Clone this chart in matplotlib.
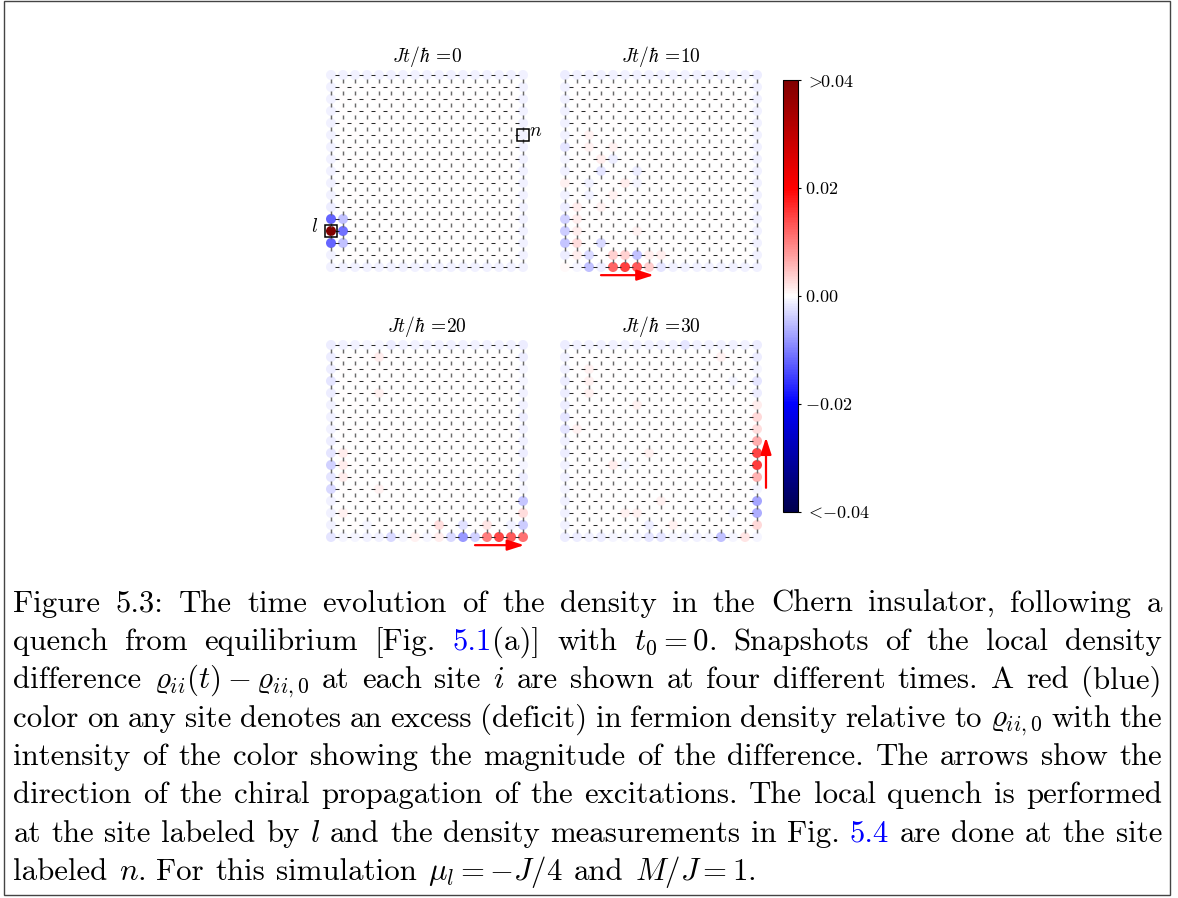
import numpy as np
import matplotlib
matplotlib.use("Agg")
import matplotlib.pyplot as plt
from matplotlib.collections import LineCollection
from matplotlib.patches import Rectangle
from matplotlib.colors import Normalize
from matplotlib.cm import ScalarMappable

plt.rcParams.update({
    "font.family": "serif",
    "font.serif": ["cmr10"],
    "mathtext.fontset": "cm",
    "axes.unicode_minus": False,
    "axes.formatter.use_mathtext": True,
})

# ---------------------------------------------------------------------------
# Local density difference rho_ii(t) - rho_ii,0 on the 17 x 17 lattice,
# in units of 1e-3.  Rows run from the top edge (y = 16) to the bottom (y = 0),
# columns from x = 0 (left) to x = 16 (right).
# ---------------------------------------------------------------------------
times = [0, 10, 20, 30]

drho_t0 = [
    [-1, -1, -1, -1, -1, -1, -1, -1, -1, -1, -1, -1, -1, -1, -1, -1, -1],
    [-1, 0, 0, 0, 0, 0, 0, 0, 0, 0, 0, 0, 0, 0, 0, 0, -1],
    [-1, 0, 0, 0, 0, 0, 0, 0, 0, 0, 0, 0, 0, 0, 0, 0, -1],
    [-1, 0, 0, 0, 0, 0, 0, 0, 0, 0, 0, 0, 0, 0, 0, 0, -1],
    [-1, 0, 0, 0, 0, 0, 0, 0, 0, 0, 0, 0, 0, 0, 0, 0, -1],
    [-1, 0, 0, 0, 0, 0, 0, 0, 0, 0, 0, 0, 0, 0, 0, 0, -1],
    [-1, 0, 0, 0, 0, 0, 0, 0, 0, 0, 0, 0, 0, 0, 0, 0, -1],
    [-1, 0, 0, 0, 0, 0, 0, 0, 0, 0, 0, 0, 0, 0, 0, 0, -1],
    [-1, 0, 0, 0, 0, 0, 0, 0, 0, 0, 0, 0, 0, 0, 0, 0, -1],
    [-1, 0, 0, 0, 0, 0, 0, 0, 0, 0, 0, 0, 0, 0, 0, 0, -1],
    [-1, 0, 0, 0, 0, 0, 0, 0, 0, 0, 0, 0, 0, 0, 0, 0, -1],
    [-1.5, 0, 0, 0, 0, 0, 0, 0, 0, 0, 0, 0, 0, 0, 0, 0, -1],
    [-12, -5, 0, 0, 0, 0, 0, 0, 0, 0, 0, 0, 0, 0, 0, 0, -1],
    [45, -11, 0, 0, 0, 0, 0, 0, 0, 0, 0, 0, 0, 0, 0, 0, -1],
    [-12, -5, 0, 0, 0, 0, 0, 0, 0, 0, 0, 0, 0, 0, 0, 0, -1],
    [-1, 0, 0, 0, 0, 0, 0, 0, 0, 0, 0, 0, 0, 0, 0, 0, -1],
    [-1, -1, -1, -1, -1, -1, -1, -1, -1, -1, -1, -1, -1, -1, -1, -1, -1],
]

drho_t10 = [
    [-1.5, -1, -1, -1, -1, -1, -1, -1, -1, -1, -1, -1, -1, -1, -1, -1, -1.5],
    [-1, 0, 0, 0, 0, 0, 0, 0, 0, 0, 0, 0, 0, 0, 0, 0, -1],
    [-1, 0, 0, 0, 0, 0, 0, 0, 0, 0, 0, 0, 0, 0, 0, 0, -1],
    [-1, 0, 0, 0, 0, 0, 0, 0, 0, 0, 0, 0, 0, 0, 0, 0, -1],
    [-1, 0, 0, 0, 0, 0, 0, 0, 0, 0, 0, 0, 0, 0, 0, 0, -1],
    [-1, 0, 1, 0, 0, 0, 0, 0, 0, 0, 0, 0, 0, 0, 0, 0, -1],
    [-2, 0, 1, 0, 1, 0, 0, 0, 0, 0, 0, 0, 0, 0, 0, 0, -1],
    [-0.7, 0, 0, 1.5, -1.5, 0, 0, 0, 0, 0, 0, 0, 0, 0, 0, 0, -1],
    [-1, 0, 0, -2, 0, 0, -1.5, 0, 0, 0, 0, 0, 0, 0, 0, 0, -1],
    [1, 0, -1, 0, 0, 1.5, -0.7, 0, 0, 0, 0, 0, 0, 0, 0, 0, -1],
    [-1, 0, -1, 0, 1, 0, 0, 0, 0, 0, 0, 0, 0, 0, 0, 0, -1],
    [-1.5, 1.5, 0, 1, 0, 0, 0, 0, 0, 0, 0, 0, 0, 0, 0, 0, -1],
    [-3.5, 1.5, 0, 0, 0, 0, 0, 0, 0, 0, 0, 0, 0, 0, 0, 0, -1],
    [-4, 1.5, 0, 0, 0, 0, 1, 0, 0, 0, 0, 0, 0, 0, 0, 0, -1],
    [-4.5, 2.5, 0, -3, 0, 0, 0, 0, 0, 0, 0, 0, 0, 0, 0, 0, -1],
    [-1.5, 1.5, -3, 0, 3.5, 3.5, -5, 1.5, 1.5, 0, 0, 0, 0, 0, 0, 0, -1],
    [0.5, -0.7, -5, -1.5, 12, 15, 13, 4, -2, -1, -1, -1, -1, -1, -1, -1, -1],
]

drho_t20 = [
    [-1.5, -1, -1, -0.7, -0.7, -1.5, -1, -1, -1, -1, -1, -1, -1, -1, -1, -1, -1.5],
    [-1.5, 0, 0, 0, 1.5, 0, 0, 0, 0, 0, 0, 0, 0, 0, 0, 0, -1.5],
    [-1.5, 0, 0, 0, 0, 0, 0, 0, 0, 0, 0, 0, 0, 0, 0, 0, -0.7],
    [-2, 0, 0, 0, 0, 0, 0, 0, 0, 0, 0, 0, 0, 0, 0, 0, -0.7],
    [-1.5, 0, 0, 0, 1, 0, 0, 0, 0, 0, 0, 0, 0, 0, 0, 0, -1],
    [-1, 0, 0, 0, 0, 0, 0, 0, 0, 0, 0, 0, 0, 0, 0, 0, -1],
    [-1, 0, 0, 0, 0, 0, 0, 0, 0, 0, 0, 0, 0, 0, 0, 0, -1.5],
    [-1, 0, 0, 0, 0, 0, 0, 0, 0, 0, 0, 0, 0, 0, 0, 0, -1],
    [-1.5, 0, 0, 0, 0, 0, 0, 0, 0, 0, 0, 0, 0, 0, 0, 0, -1],
    [-2, 1.5, 0, 0, 0, 0, 0, 0, 0, 0, 0, 0, 0, 0, 0, 0, -1.5],
    [-3.5, 1.5, 0, 0, 0, 0, 0, 0, 0, 0, 0, 0, 0, 0, 0, 0, -0.7],
    [-2, 1.5, 0, 0, 0, 0, 0, 0, 0, 0, 0, 0, 0, 0, 0, 0, -1.5],
    [-3, 0, 0, 0, 1, 0, 0, 0, 0, 0, 0, 0, 0, 0, 0, 0, -0.7],
    [-1, 0, 0, 0, 0, 0, 0, 0, 0, 0, 0, 0, 0, 0, 0, 0, -4.5],
    [-1, 1, 0, 0, 0, 0, 0, 0, 0, 0, 0, 0, 0, 0, 0, 0, 2.5],
    [-1, 0, 0, -0.7, 0, 0, 0, 0, 0, 2.5, 0, -2.5, 0, 2, 0, -1, -4],
    [-2, -0.7, -0.7, -1, -1, -3, -0.7, 1, -0.7, 1.5, -3, -8, -3.5, 10, 14.5, 13, 11],
]

drho_t30 = [
    [-1.5, -1, -1, -1, -1, -1, -1, -1, -1, -1, -2, -1, -1, -1, -1, -1, -1.5],
    [-1, 0, 0, 0, 0, 0, 0, 0, 0, 0, 0, 0, 0, 1, 0, 0, -1.5],
    [-1, 0, 1, 0, 0, 0, 0, 0, 0, 0, 0, 0, 0, 0, 0, 0, -0.7],
    [-1.5, 0, 1, 0, 0, 0, 0, 0, 0, 0, 0, 0, 0, 0, -0.7, 0, -2],
    [-1.5, 0, 1, 0, 0, 0, 0, 0, 0, 0, 0, 0, 0, 0, 0, 0, -1.5],
    [-1.5, 0, 0, 0, 0, 0, 1, 0, 0, 0, 0, 0, 0, 0, 0, 0, 1.5],
    [-2, 0, 0, 0, 0, 0, 0, 0, 0, 0, 0, 0, 0, 0, 0, 0, 3],
    [-2, 1, 0, 0, 0, 0, 0, 0, 0, 0, 0, 0, 0, 0, 0, 0, 2.5],
    [-1, 0, 0, 0, 0, 0, 0, 0, 0, 0, 0, 0, 0, 0, 0, 0, 6.5],
    [-1.5, 0, 0, 0, 0, 0, 0, 1, 0, 0, 0, 0, 0, 0, 0, 0, 14.5],
    [-1, 0, 0, 0, 1.5, -0.7, 0, 0, 0, 0, 0, 0, 0, 0, 0, 0, 15],
    [-1, 0, 0, 0, 0, 0, 0, 0, 0, 0, 0, 0, 0, 0, 0, 0, 6],
    [-0.7, 0, 0, 0, 0, 0, 0, 0, 0, 0, 0, 0, 0, 0, 0, 0, -0.7],
    [-1, 0, 0, 0, 0, 0, 0, 0, 1, 0, 0, 0, 0, 0, 0, 0, -7],
    [-1, 0, 0, 0, 0, 1, 1, 0, 0, 0, 0, 0, 0, 0, -0.7, 0, -6.5],
    [-1, 0, 0, 0, 0, 0, 0, -1.5, 0, 1, 0, 0, 0, 0, 0, 0, 3],
    [-1.5, -1.5, -1, -1.5, -0.7, -0.7, -0.7, -2, -2, -0.7, -1, -1, -0.7, -5, -0.7, 2, -0.7],
]

snapshots = [drho_t0, drho_t10, drho_t20, drho_t30]

cbar_ticks = [-0.04, -0.02, 0.0, 0.02, 0.04]
cbar_labels = [r"$<\!{-}0.04$", r"${-}0.02$", r"$0.00$", r"$0.02$", r"$>\!\!0.04$"]

quench_site = (0, 3)      # site l
measure_site = (16, 11)   # site n

caption_lines = [
    "Figure 5.3: The time evolution of the density in the Chern insulator, following a",
    "quench from equilibrium [Fig. #5.1#(a)] with $t_0=0$. Snapshots of the local density",
    r"difference $\varrho_{ii}(t)-\varrho_{ii,0}$ at each site $i$ are shown at four different times. A red (blue)",
    r"color on any site denotes an excess (deficit) in fermion density relative to $\varrho_{ii,0}$ with the",
    "intensity of the color showing the magnitude of the difference. The arrows show the",
    "direction of the chiral propagation of the excitations. The local quench is performed",
    "at the site labeled by $l$ and the density measurements in Fig. #5.4# are done at the site",
    r"labeled $n$. For this simulation $\mu_l=-J/4$ and $M/J=1$.",
]

# ---------------------------------------------------------------------------
W, H = 1178, 898
fig = plt.figure(figsize=(W / 100, H / 100), dpi=100)

L = 17
STEP = 12.0  # pixel spacing between lattice sites
cmap = plt.get_cmap("seismic")
norm = Normalize(vmin=-0.04, vmax=0.04)

# pixel position (x of column 0, y-from-top of row 0) of each panel
panel_origin = [(331, 267), (565, 267), (331, 537), (565, 537)]

# chiral-propagation arrows (tail, head) in lattice units
arrow_paths = {
    1: ((3.0, -0.68), (7.4, -0.68)),
    2: ((12.0, -0.68), (16.1, -0.68)),
    3: ((16.75, 4.1), (16.75, 8.3)),
}

cols, rows = np.meshgrid(np.arange(L), np.arange(L))

# short dash marks sitting on every bond of the square lattice
half = 0.17
h_bonds = [[(c + 0.5 - half, r), (c + 0.5 + half, r)] for r in range(L) for c in range(L - 1)]
v_bonds = [[(c, r + 0.5 - half), (c, r + 0.5 + half)] for c in range(L) for r in range(L - 1)]

axes = []
for k, (grid, t) in enumerate(zip(snapshots, times)):
    x0, y0 = panel_origin[k]
    ax = fig.add_axes([(x0 - STEP / 2) / W, 1 - (y0 + STEP / 2) / H,
                       L * STEP / W, L * STEP / H])
    ax.set_xlim(-0.5, L - 0.5)
    ax.set_ylim(-0.5, L - 0.5)
    ax.axis("off")

    vals = np.array(grid, dtype=float)[::-1] * 1e-3
    ax.scatter(cols.ravel(), rows.ravel(), c=vals.ravel(), cmap=cmap, norm=norm,
               s=52, linewidths=0, zorder=1, clip_on=False)
    ax.add_collection(LineCollection(h_bonds, colors="#2a2a2a", linewidths=0.75, zorder=2))
    ax.add_collection(LineCollection(v_bonds, colors="#6a6a6a", linewidths=1.05, zorder=2))

    ax.set_title(r"$Jt/\hbar\,=\!%d$" % t, fontsize=14, pad=3)

    if k in arrow_paths:
        tail, head = arrow_paths[k]
        ax.annotate("", xy=head, xytext=tail, annotation_clip=False,
                    arrowprops=dict(arrowstyle="-|>,head_length=1.0,head_width=0.32",
                                    color="red", lw=1.6, shrinkA=0, shrinkB=0),
                    zorder=4)
    axes.append(ax)

# marked sites in the first snapshot
ax0 = axes[0]
for (sx, sy), lab, dx in [(quench_site, r"$l$", -1.4), (measure_site, r"$n$", 1.05)]:
    ax0.add_patch(Rectangle((sx - 0.5, sy - 0.5), 1, 1, fill=False, ec="black",
                            lw=1.1, zorder=3, clip_on=False))
    ax0.text(sx + dx, sy + 0.35, lab, fontsize=14, ha="center", va="center")

# colour bar
cax = fig.add_axes([783 / W, 1 - 512 / H, 15 / W, 432 / H])
cb = fig.colorbar(ScalarMappable(norm=norm, cmap=cmap), cax=cax, ticks=cbar_ticks)
cb.ax.set_yticklabels(cbar_labels)
cb.ax.tick_params(labelsize=13, length=2.5, width=0.8, pad=2.5)
cb.outline.set_linewidth(0.8)

# caption, typeset as justified lines
FS0 = 20.0
left_px, right_px = 13.5, 1162.0
base0, lead = 611.7, 38.3
link_color = "#0000ff"
renderer = fig.canvas.get_renderer()


def em_px(fs):
    return fs * 100 / 72


lines = []
for line in caption_lines:
    words = []
    for w in line.split(" "):
        objs = []
        for i, part in enumerate(w.split("#")):
            if part:
                objs.append(fig.text(0, 0, part, fontsize=FS0, va="baseline", ha="left",
                                     color=link_color if i % 2 else "black"))
        words.append(objs)
    lines.append(words)


def measure(words):
    return [[o.get_window_extent(renderer).width for o in objs] for objs in words]


# choose the size at which the fullest line fits with slightly shrunk interword spacing
natural = []
for words in lines[:-1]:
    wsum = sum(sum(ws) for ws in measure(words))
    natural.append(wsum + (len(words) - 1) * 0.27 * em_px(FS0))
FS = FS0 * (right_px - left_px) / max(natural)
for words in lines:
    for objs in words:
        for o in objs:
            o.set_fontsize(FS)

for k, words in enumerate(lines):
    widths = measure(words)
    totals = [sum(ws) for ws in widths]
    if k < len(lines) - 1:
        gap = (right_px - left_px - sum(totals)) / (len(words) - 1)
    else:
        gap = 0.36 * em_px(FS)
    x = left_px
    y = base0 + lead * k
    for objs, ws, tw in zip(words, widths, totals):
        xx = x
        for o, pw in zip(objs, ws):
            o.set_position((xx / W, 1 - y / H))
            xx += pw
        x += tw + gap

# frame around the whole figure
fig.add_artist(Rectangle((4 / W, 1 - 895 / H), 1166 / W, 894 / H, transform=fig.transFigure,
                         fill=False, ec="#444444", lw=1.0))

fig.savefig("out.png", dpi=100)
